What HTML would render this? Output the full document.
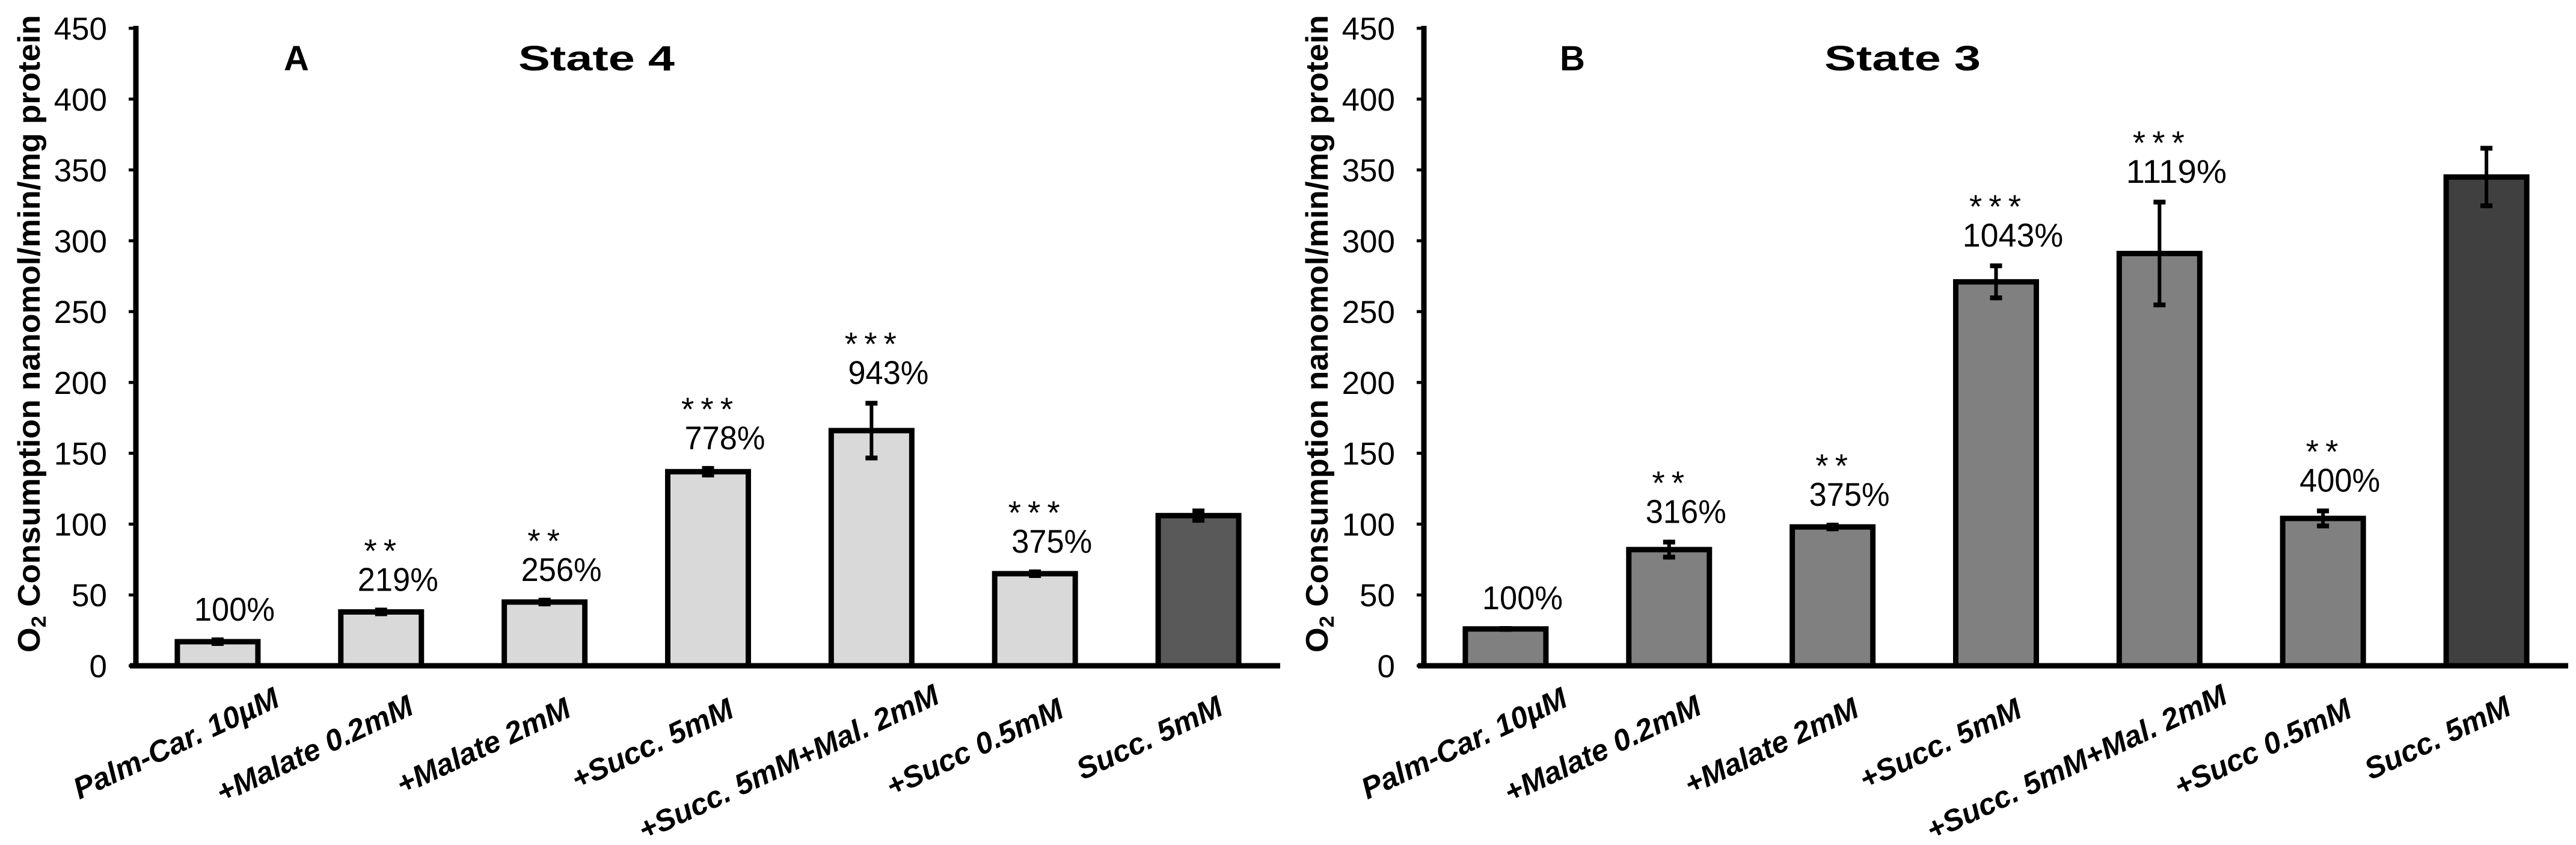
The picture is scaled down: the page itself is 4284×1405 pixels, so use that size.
<!DOCTYPE html>
<html><head><meta charset="utf-8"><style>
html,body{margin:0;padding:0;background:#fff;}
svg{display:block;font-family:"Liberation Sans",Arial,sans-serif;}
</style></head><body>
<svg id="chart" width="4284" height="1405" viewBox="0 0 4284 1405" xmlns="http://www.w3.org/2000/svg"></svg>
<script>
const categories = ["Palm-Car. 10µM","+Malate 0.2mM","+Malate 2mM","+Succ. 5mM","+Succ. 5mM+Mal. 2mM","+Succ 0.5mM","Succ. 5mM"];
const state4Values = [17, 38, 45, 137, 166, 65, 106];
const state4Errors = [3, 3, 3, 4, 21, 3, 5];
const state4Pct = ["100%","219%","256%","778%","943%","375%",""];
const state4Stars = ["","**","**","***","***","***",""];
const state3Values = [26, 82, 98, 271, 291, 104, 345];
const state3Errors = [2, 7, 3, 13, 38, 7, 22];
const state3Pct = ["100%","316%","375%","1043%","1119%","400%",""];
const state3Stars = ["","**","**","***","***","**",""];
const yTicks = [0,50,100,150,200,250,300,350,400,450];

const NS = "http://www.w3.org/2000/svg";
const svg = document.getElementById('chart');
function mk(tag, attrs, parent, text){
  const e = document.createElementNS(NS, tag);
  for (const k in attrs) e.setAttribute(k, attrs[k]);
  if (text !== undefined) e.textContent = text;
  (parent || svg).appendChild(e);
  return e;
}
// layout (not data)
const labelDx = [106,57,47,46,116,51,44];
const labelY = [1173,1186,1190,1191,1168,1191,1187];

function panel(ox, letter, title, letterX, titleX, vals, errs, pcts, stars, fills){
  const g = mk('g', {});
  
  
  const x0 = ox + 226, x1 = ox + 2129, y0 = 1107, yTop = 47;
  const ymax = 450;
  const yS = v => y0 - (y0 - yTop) * v / ymax;
  const step = (x1 - x0) / categories.length;
  const xC = i => x0 + step * (i + 0.5);
  vals.forEach((v, i) => {
    const bw = 134;
    const r = mk('rect', {x: xC(i) - bw/2, y: yS(v), width: bw, height: y0 - yS(v), fill: fills[i], stroke: '#000', 'stroke-width': 9}, g);
    
    
    const eb = mk('g', {stroke: '#000'}, g);
    
    
    const yt = yS(v + errs[i]), yb = yS(v - errs[i]);
    mk('line', {x1: xC(i), x2: xC(i), y1: yt, y2: yb, 'stroke-width': 6}, eb);
    mk('line', {x1: xC(i) - 10, x2: xC(i) + 10, y1: yt + 4, y2: yt + 4, 'stroke-width': 8}, eb);
    mk('line', {x1: xC(i) - 10, x2: xC(i) + 10, y1: yb - 4, y2: yb - 4, 'stroke-width': 8}, eb);
    if (pcts[i]) {
      const t = mk('text', {x: xC(i) + 28, y: yt - 28, 'font-size': 55, 'text-anchor': 'middle', fill: '#000', textLength: 134 * pcts[i].length / 4, lengthAdjust: 'spacingAndGlyphs'}, g, pcts[i]);
      
      
    }
    if (stars[i]) {
      const s = mk('text', {x: xC(i) + 4, y: yt - 76, 'font-size': 55, 'text-anchor': 'middle', 'letter-spacing': 11, fill: '#000'}, g, stars[i]);
      
      
    }
    const lab = mk('text', {x: xC(i) + labelDx[i], y: labelY[i], 'font-size': 50, 'font-weight': 'bold', 'font-style': 'italic', 'text-anchor': 'end', transform: 'rotate(-25 ' + (xC(i) + labelDx[i]) + ' ' + labelY[i] + ')'}, g, categories[i]);
    
    
  });
  const ya = mk('line', {x1: x0, x2: x0, y1: yTop - 4, y2: y0 + 4, stroke: '#000', 'stroke-width': 9}, g);
  
  
  const xa = mk('line', {x1: x0 - 10, x2: x1, y1: y0, y2: y0, stroke: '#000', 'stroke-width': 9}, g);
  
  
  yTicks.forEach(v => {
    mk('line', {x1: x0 - 12, x2: x0, y1: yS(v), y2: yS(v), stroke: '#000', 'stroke-width': 5}, g);
    const t = mk('text', {x: ox + 178, y: yS(v) + 19, 'font-size': 53, 'text-anchor': 'end'}, g, String(v));
    
    
  });
  const yt = mk('text', {x: 0, y: 0, 'font-size': 52, 'font-weight': 'bold', 'text-anchor': 'middle', transform: 'translate(' + (ox + 66) + ',555) rotate(-90)', textLength: 1060, lengthAdjust: 'spacingAndGlyphs'}, g);
  
  
  mk('tspan', {}, yt, 'O');
  mk('tspan', {'font-size': 34, dy: 10}, yt, '2');
  mk('tspan', {dy: -10}, yt, ' Consumption nanomol/min/mg protein');
  const pl = mk('text', {x: ox + letterX, y: 117, 'font-size': 58, 'font-weight': 'bold'}, g, letter);
  
  
  const pt = mk('text', {x: ox + titleX, y: 117, 'font-size': 58, 'font-weight': 'bold', textLength: 260, lengthAdjust: 'spacingAndGlyphs'}, g, title);
  
  
}
panel(0, 'A', 'State 4', 472, 862, state4Values, state4Errors, state4Pct, state4Stars,
  ['#d9d9d9','#d9d9d9','#d9d9d9','#d9d9d9','#d9d9d9','#d9d9d9','#595959']);
panel(2142, 'B', 'State 3', 452, 892, state3Values, state3Errors, state3Pct, state3Stars,
  ['#808080','#808080','#808080','#808080','#808080','#808080','#404040']);
</script>
</body></html>
